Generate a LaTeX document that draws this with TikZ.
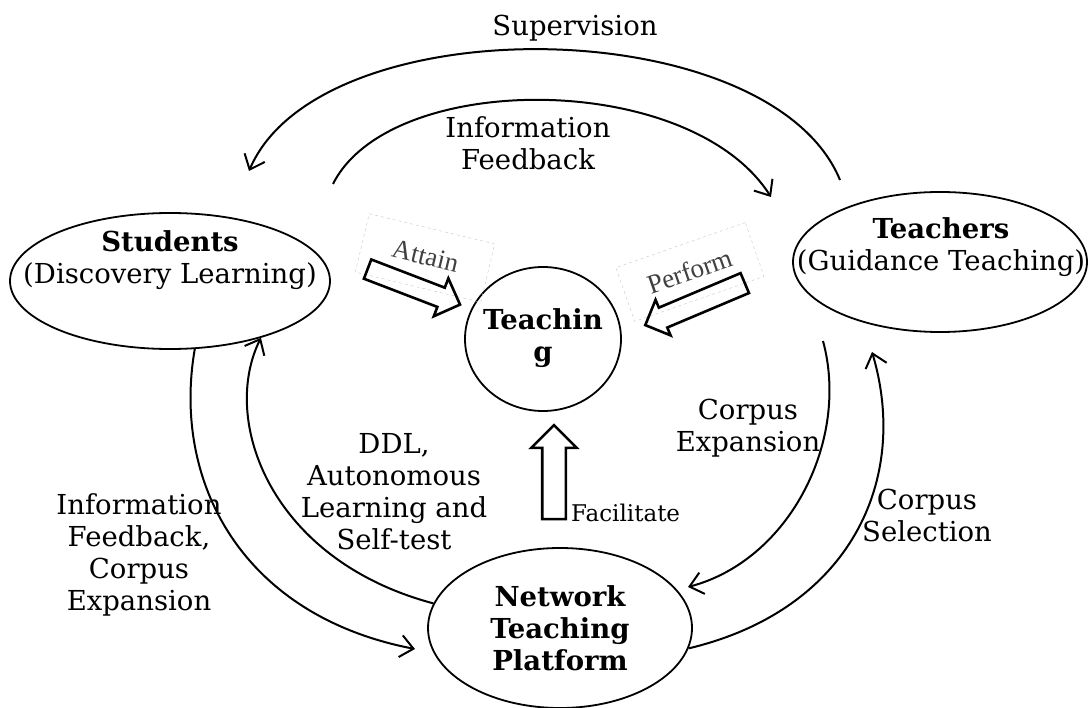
\documentclass[tikz,border=0pt]{standalone}
\usepackage{fontspec}
\setmainfont{DejaVu Serif}
\newfontfamily\scanfont{Liberation Serif}
\usetikzlibrary{shapes.geometric,shapes.arrows,arrows.meta}

\begin{document}
\begin{tikzpicture}[x=1pt,y=-1pt,
	bubble/.style={draw,ellipse,line width=1.8pt,inner sep=0pt},
	txt/.style={align=center,font=\fontsize{27.5}{32}\selectfont},
	bigtxt/.style={align=center,font=\fontsize{27.5}{32}\selectfont\bfseries},
	flow/.style={line width=2pt,-{Straight Barb[length=13pt,width=22pt]}},
	blockarrow/.style={draw,single arrow,line width=2.6pt,inner xsep=0pt,single arrow tip angle=90,single arrow head indent=0pt},
	scanbox/.style={draw=gray!45,dashed,line width=0.4pt,inner sep=0pt,text=black!75,font=\scanfont\fontsize{27}{30}\selectfont}]
		\useasboundingbox (0,0) rectangle (1089,708);

		% the four parties
		\node[bubble,minimum width=320pt,minimum height=136pt] (students) at (170,281) {};
		\node[txt] (studentslabel) at (170,260) {\textbf{Students}\\(Discovery Learning)};
		\node[bubble,minimum width=294pt,minimum height=140pt] (teachers) at (940,262) {};
		\node[txt] (teacherslabel) at (941,247) {\textbf{Teachers}\\(Guidance Teaching)};
		\node[bubble,minimum width=156pt,minimum height=144pt] (teaching) at (543,339) {};
		\node[bigtxt] (teachinglabel) at (543,338) {Teachin\\g};
		\node[bubble,minimum width=264pt,minimum height=160pt] (network) at (560,628) {};
		\node[bigtxt] (networklabel) at (560,628) {Network\\Teaching\\Platform};

		% pasted labels and block arrows
		\node[scanbox,minimum width=129pt,minimum height=60pt,rotate=-13.5] (attainbox) at (425,258) {\raisebox{4pt}{Attain}};
		\node[scanbox,minimum width=137pt,minimum height=57pt,rotate=19.2] (performbox) at (690,272) {\raisebox{2pt}{Perform}};
		\node[blockarrow,minimum height=99pt,minimum width=38pt,inner ysep=9pt,single arrow head extend=10pt,rotate=-21] (attainarrow) at (409,285) {};
		\node[blockarrow,minimum height=108pt,minimum width=36pt,inner ysep=9.5pt,single arrow head extend=8.5pt,rotate=202.9] (performarrow) at (700,302) {};
		\node[blockarrow,minimum height=94pt,minimum width=43pt,inner ysep=10.5pt,single arrow head extend=11pt,rotate=90] (facilarrow) at (554,478) {};
		\node[font=\fontsize{23}{26}\selectfont,anchor=west,inner sep=0pt] (faclabel) at (571,513) {Facilitate};

		% top arcs
		\coordinate (supfrom) at (840,180);
		\coordinate (supto) at (249,171);
		\draw[flow] (supfrom) .. controls (770,10) and (320,5) .. (supto);
		\node[txt] (suplabel) at (575,28) {Supervision};
		\coordinate (fbfrom) at (333,184);
		\coordinate (fbto) at (771,197);
		\draw[flow] (fbfrom) .. controls (390,70) and (690,70) .. (fbto);
		\node[txt] (fblabel) at (528,143) {Information\\Feedback};

		% left arcs
		\coordinate (expto) at (415,649);
		\draw[flow] (students.-70) .. controls (172,480) and (240,615) .. (expto);
		\node[txt] (explabel) at (139,555) {Information\\Feedback,\\Corpus\\Expansion};
		\draw[flow] (network.169) .. controls (270,560) and (220,420) .. (students.-32);
		\node[txt] (ddllabel) at (394,492) {DDL,\\Autonomous\\Learning and\\Self-test};

		% right arcs
		\coordinate (cexfrom) at (823,341);
		\coordinate (cexto) at (688,587);
		\draw[flow] (cexfrom) .. controls (850,440) and (790,560) .. (cexto);
		\node[txt] (cexlabel) at (748,428) {Corpus\\Expansion};
		\coordinate (cselto) at (872,352);
		\draw[flow] (network.-9) .. controls (850,610) and (910,480) .. (cselto);
		\node[txt] (csellabel) at (927,515) {Corpus\\Selection};
	\end{tikzpicture}
\end{document}
